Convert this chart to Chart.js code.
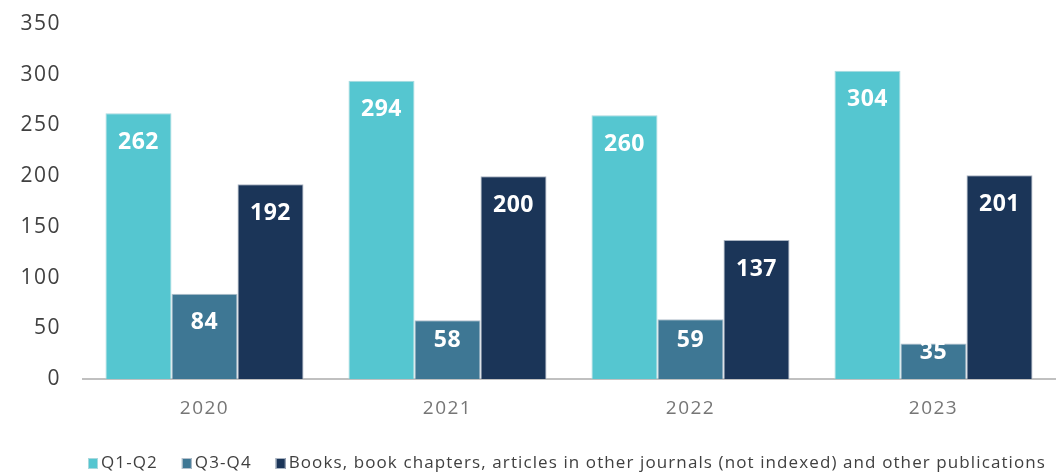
<!DOCTYPE html>
<html>
<head>
<meta charset="utf-8">
<script src="https://cdn.jsdelivr.net/npm/chart.js@4/dist/chart.umd.min.js"></script>
<style>
  html, body { margin: 0; padding: 0; background: #fff; }
  #wrap { width: 1059px; height: 474px; position: relative; }
</style>
</head>
<body>
<div id="wrap"><canvas id="pubChart"></canvas></div>
<script>
// publications per year
const years = ["2020", "2021", "2022", "2023"];
const q1q2 = [262, 294, 260, 304];
const q3q4 = [84, 58, 59, 35];
const books = [192, 200, 137, 201];
const seriesNames = ["Q1-Q2", "Q3-Q4", "Books, book chapters, articles in other journals (not indexed) and other publications"];
const yTicks = [0, 50, 100, 150, 200, 250, 300, 350];

const colors = ["#55c6d0", "#3e7794", "#1b3558"];
const edges = ["#a9d9de", "#b4c0cc", "#aab4c2"];

// axis text in the original is spaced out a little
const tickSpacing = {
  id: "tickSpacing",
  beforeDraw(chart) { chart.ctx.letterSpacing = "1.5px"; },
  beforeDatasetsDraw(chart) { chart.ctx.letterSpacing = "0px"; }
};

// white value labels inside each bar, near the top
const barLabels = {
  id: "barLabels",
  afterDatasetsDraw(chart) {
    const ctx = chart.ctx;
    ctx.save();
    ctx.letterSpacing = "0.5px";
    ctx.fillStyle = "#ffffff";
    ctx.font = "bold 23px 'Open Sans', sans-serif";
    ctx.textAlign = "center";
    ctx.textBaseline = "middle";
    chart.data.datasets.forEach((ds, i) => {
      chart.getDatasetMeta(i).data.forEach((bar, j) => {
        const h = bar.base - bar.y;
        const y = bar.y + Math.min(29, h / 2 - 9);
        ctx.fillText(ds.data[j], bar.x, y);
      });
    });
    ctx.restore();
  }
};

// legend row along the bottom, starting under the plot
const bottomLegend = {
  id: "bottomLegend",
  afterDraw(chart) {
    const ctx = chart.ctx;
    ctx.save();
    ctx.font = "17px 'Open Sans', sans-serif";
    ctx.letterSpacing = "1.1px";
    ctx.textBaseline = "middle";
    ctx.textAlign = "left";
    let x = 88;
    const y = 463;
    chart.data.datasets.forEach(ds => {
      ctx.fillStyle = ds.backgroundColor;
      ctx.fillRect(x, y - 5, 10, 11);
      ctx.strokeStyle = ds.borderColor;
      ctx.lineWidth = 1;
      ctx.strokeRect(x + 0.5, y - 4.5, 9, 10);
      ctx.fillStyle = "#404040";
      ctx.fillText(ds.label, x + 13, y);
      x += 13 + ctx.measureText(ds.label).width + 24;
    });
    ctx.restore();
  }
};

new Chart(document.getElementById("pubChart"), {
  type: "bar",
  data: {
    labels: years,
    datasets: [
      { label: seriesNames[0], data: q1q2, backgroundColor: colors[0], borderColor: edges[0], borderWidth: 1 },
      { label: seriesNames[1], data: q3q4, backgroundColor: colors[1], borderColor: edges[1], borderWidth: 1 },
      { label: seriesNames[2], data: books, backgroundColor: colors[2], borderColor: edges[2], borderWidth: 1 }
    ]
  },
  options: {
    responsive: true,
    maintainAspectRatio: false,
    animation: false,
    layout: { autoPadding: false, padding: { left: 0, right: 4, top: 24, bottom: 0 } },
    datasets: { bar: { categoryPercentage: 0.815, barPercentage: 1.0 } },
    plugins: {
      tooltip: { enabled: false },
      legend: { display: false }
    },
    scales: {
      x: {
        afterFit: s => { s.height = 95; },
        grid: { display: false, drawTicks: false },
        border: { display: true, color: "#c0c0c0", width: 2 },
        ticks: { color: "#767676", font: { family: "'Open Sans', sans-serif", size: 19 }, padding: 18 }
      },
      y: {
        min: 0,
        max: 350,
        afterBuildTicks: s => { s.ticks = yTicks.map(v => ({ value: v })); },
        afterFit: s => { s.width = 83; s.paddingTop = 0; s.paddingBottom = 0; },
        grid: { display: false, drawTicks: false },
        border: { display: false },
        ticks: { color: "#404040", font: { family: "'Open Sans', sans-serif", size: 21 }, padding: 22 }
      }
    }
  },
  plugins: [tickSpacing, barLabels, bottomLegend]
});
</script>
</body>
</html>
